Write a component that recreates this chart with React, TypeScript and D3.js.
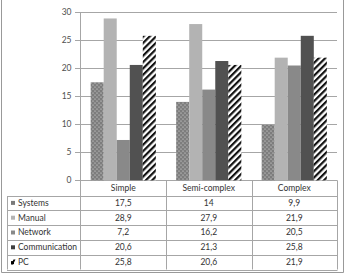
import { useEffect, useRef } from 'react';
import * as d3 from 'd3';

const categories = ['Simple', 'Semi-complex', 'Complex'];
const series = ['Systems', 'Manual', 'Network', 'Communication', 'PC'];
const systems = [17.5, 14, 9.9];
const manual = [28.9, 27.9, 21.9];
const network = [7.2, 16.2, 20.5];
const communication = [20.6, 21.3, 25.8];
const pc = [25.8, 20.6, 21.9];
const yTicks = [0, 5, 10, 15, 20, 25, 30];

const values = [systems, manual, network, communication, pc];
const fills = ['url(#dots)', '#b3b3b3', '#898989', '#515151', 'url(#stripes)'];
const swatch = ['#7a7a7a', '#b3b3b3', '#898989', '#3f3f3f', '#000'];

const fmt = (v: number) => String(v).replace('.', ',');

const App = () => {
  const svgRef = useRef<SVGSVGElement>(null);

  useEffect(() => {
    const svg = d3.select(svgRef.current);
    svg.selectAll('*').remove();

    const left = 80.5, right = 337, top = 12.3, base = 180.3;
    const tableLeft = 7, tableBottom = 269.5;
    const font = 'Lato, "Open Sans", sans-serif';
    const lineColor = '#a6a6a6';

    const defs = svg.append('defs');
    const dots = defs.append('pattern').attr('id', 'dots')
      .attr('patternUnits', 'userSpaceOnUse').attr('width', 4).attr('height', 4);
    dots.append('rect').attr('width', 4).attr('height', 4).attr('fill', '#7d7d7d');
    dots.append('circle').attr('cx', 1).attr('cy', 1).attr('r', 0.6).attr('fill', '#e8e8e8');
    dots.append('circle').attr('cx', 3).attr('cy', 3).attr('r', 0.6).attr('fill', '#e8e8e8');

    const stripes = defs.append('pattern').attr('id', 'stripes')
      .attr('patternUnits', 'userSpaceOnUse').attr('width', 4.5).attr('height', 4.5)
      .attr('patternTransform', 'rotate(45)');
    stripes.append('rect').attr('width', 4.5).attr('height', 4.5).attr('fill', '#fff');
    stripes.append('rect').attr('width', 2.2).attr('height', 4.5).attr('fill', '#111');

    // outer frame
    svg.append('path')
      .attr('d', 'M1.5,0 V272.5 H343.5 V0')
      .attr('fill', 'none').attr('stroke', '#999').attr('stroke-width', 1);

    const x0 = d3.scaleBand<string>().domain(categories).range([left, right]);
    const x1 = d3.scaleBand<string>().domain(series).range([0, x0.bandwidth()]).paddingOuter(0.78);
    const y = d3.scaleLinear().domain([0, 30]).range([base, top]);

    // gridlines and ticks
    const grid = svg.append('g');
    yTicks.forEach(t => {
      const yy = Math.round(y(t)) + 0.5;
      grid.append('line').attr('x1', left - 5.5).attr('x2', right).attr('y1', yy).attr('y2', yy)
        .attr('stroke', lineColor).attr('stroke-width', 1);
      grid.append('text').attr('x', left - 9).attr('y', yy).attr('dy', '0.35em')
        .attr('text-anchor', 'end').attr('font-family', font).attr('font-size', 8.5)
        .attr('fill', '#505050').text(t);
    });

    // bars
    series.forEach((s, i) => {
      svg.append('g').selectAll('rect').data(values[i]).enter().append('rect')
        .attr('x', (_d, j) => x0(categories[j])! + x1(s)!)
        .attr('y', d => y(d))
        .attr('width', x1.bandwidth())
        .attr('height', d => base - y(d))
        .attr('fill', fills[i]);
    });

    // data table
    const rows = d3.scaleBand<string>().domain(series).range([195.5, tableBottom]);
    const table = svg.append('g').attr('stroke', lineColor).attr('stroke-width', 1);
    table.append('line').attr('x1', left).attr('x2', left).attr('y1', top).attr('y2', tableBottom);
    categories.forEach(c => {
      const xr = Math.round(x0(c)! + x0.bandwidth()) + 0.5;
      table.append('line').attr('x1', xr).attr('x2', xr).attr('y1', base).attr('y2', tableBottom);
    });
    [...series.map(s => rows(s)!), tableBottom].forEach(yy => {
      const yr = Math.round(yy) + 0.5;
      table.append('line').attr('x1', tableLeft).attr('x2', right + 0.5).attr('y1', yr).attr('y2', yr);
    });
    table.append('line').attr('x1', tableLeft + 0.5).attr('x2', tableLeft + 0.5)
      .attr('y1', Math.round(rows(series[0])!) + 0.5).attr('y2', tableBottom);

    const text = svg.append('g').attr('font-family', font).attr('font-size', 8.5).attr('fill', '#333');
    categories.forEach(c => {
      text.append('text').attr('x', x0(c)! + x0.bandwidth() / 2).attr('y', (base + 195.5) / 2)
        .attr('dy', '0.35em').attr('text-anchor', 'middle').text(c);
    });
    series.forEach((s, i) => {
      const cy = rows(s)! + rows.bandwidth() / 2;
      if (i === 4) {
        text.append('path')
          .attr('d', `M11,${cy + 2.5} L13.5,${cy - 2.5} L15.5,${cy - 2.5} L13,${cy + 2.5} Z`)
          .attr('fill', swatch[i]);
        text.append('rect').attr('x', 11).attr('y', cy - 1).attr('width', 3).attr('height', 3).attr('fill', swatch[i]);
      } else {
        text.append('rect').attr('x', 11).attr('y', cy - 2).attr('width', 4).attr('height', 4).attr('fill', swatch[i]);
      }
      text.append('text').attr('x', 18).attr('y', cy).attr('dy', '0.35em').text(s);
      values[i].forEach((v, j) => {
        text.append('text').attr('x', x0(categories[j])! + x0.bandwidth() / 2).attr('y', cy)
          .attr('dy', '0.35em').attr('text-anchor', 'middle').text(fmt(v));
      });
    });
  }, []);

  return (
    <svg ref={svgRef} width={348} height={273}
      style={{ position: 'absolute', left: 0, top: 0, background: '#fff' }} />
  );
};

export default App;
